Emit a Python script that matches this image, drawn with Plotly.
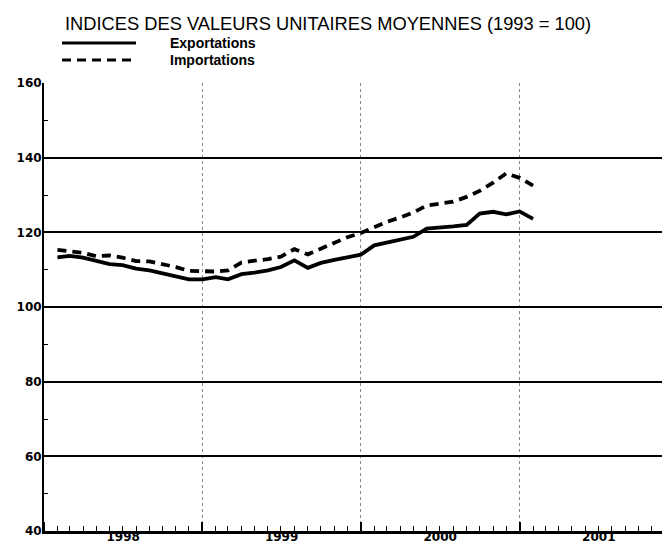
import pandas as pd
import plotly.graph_objects as go

# Monthly observations, Feb 1998 - Feb 2001
months = pd.date_range("1998-02-01", "2001-02-01", freq="MS")
exportations = [113.3, 113.7, 113.2, 112.4, 111.5, 111.2, 110.3, 109.8, 109.0, 108.2,
                107.4, 107.4, 108.0, 107.4, 108.8, 109.2, 109.8, 110.7, 112.5, 110.5,
                111.8, 112.6, 113.3, 114.0, 116.5, 117.2, 118.0, 118.8, 121.0, 121.2,
                121.6, 122.0, 125.0, 125.5, 124.8, 125.6, 123.6]
importations = [115.3, 115.0, 114.5, 113.6, 113.8, 113.2, 112.3, 112.2, 111.5, 110.7,
                109.7, 109.5, 109.5, 109.8, 111.9, 112.4, 112.8, 113.5, 115.5, 114.1,
                115.7, 117.2, 118.7, 119.8, 121.3, 122.8, 124.0, 125.3, 127.2, 127.6,
                128.2, 129.5, 131.1, 133.3, 135.8, 134.6, 132.5]

title_text = "INDICES DES VALEURS UNITAIRES MOYENNES (1993 = 100)"
legend_labels = ["Exportations", "Importations"]
y_ticks = [40, 60, 80, 100, 120, 140, 160]

W, H = 670, 547
ML, MR, MT, MB = 36, 0, 75, 24
PW, PH = W - ML - MR, H - MT - MB

def px_x(p):
    return (p - ML) / PW

def px_y(p):
    return (H - MB - p) / PH

fig = go.Figure()
fig.add_trace(go.Scatter(x=months, y=exportations, mode="lines",
                         line=dict(color="black", width=3.8), name=legend_labels[0]))
fig.add_trace(go.Scatter(x=months, y=importations, mode="lines",
                         line=dict(color="black", width=3.8, dash="9px,6px"), name=legend_labels[1]))

# legend drawn manually
leg_rows = [(35, "solid"), (52, "9px,6px")]
for (py, dash), lab in zip(leg_rows, legend_labels):
    fig.add_shape(type="line", xref="paper", yref="paper",
                  x0=px_x(54), x1=px_x(128), y0=px_y(py), y1=px_y(py),
                  line=dict(color="black", width=3, dash=dash))
    fig.add_annotation(xref="paper", yref="paper", x=px_x(160), y=px_y(py),
                       text=lab, showarrow=False, xanchor="left", yanchor="middle",
                       font=dict(family="Liberation Sans", size=14, color="black", weight="bold"))

fig.update_layout(
    width=W, height=H,
    margin=dict(l=ML, r=MR, t=MT, b=MB),
    paper_bgcolor="white", plot_bgcolor="white",
    showlegend=False,
    title=dict(text=title_text, xref="container", yref="container",
               x=57 / W, xanchor="left", y=1 - 16 / H, yanchor="middle",
               font=dict(family="Liberation Sans", size=18.3, color="black")),
)

fig.update_xaxes(
    type="date", range=["1998-01-01", "2002-01-01"],
    tick0="1998-01-01", dtick="M12", ticklabelmode="period", tickformat="%Y",
    ticks="inside", ticklen=9, tickwidth=1.5, tickcolor="black",
    ticklabelstandoff=-7,
    showgrid=True, gridcolor="#888", griddash="dot", gridwidth=1,
    minor=dict(dtick="M1", ticks="inside", ticklen=5, tickwidth=1.2, tickcolor="black", showgrid=False),
    showline=True, linecolor="black", linewidth=2.5,
    tickfont=dict(family="DejaVu Sans", size=12, color="black", weight="bold"),
    zeroline=False, fixedrange=True,
)
fig.update_yaxes(
    range=[40, 160], tickvals=y_ticks, ticktext=[str(v) for v in y_ticks],
    ticks="inside", ticklen=4, tickcolor="black",
    ticklabelstandoff=-2,
    showgrid=True, gridcolor="black", gridwidth=1.6,
    minor=dict(dtick=10, ticks="inside", ticklen=4, tickcolor="black", showgrid=False),
    showline=True, linecolor="black", linewidth=2,
    tickfont=dict(family="DejaVu Sans", size=12, color="black", weight="bold"),
    zeroline=False, fixedrange=True,
)

fig.write_html("out.html")
